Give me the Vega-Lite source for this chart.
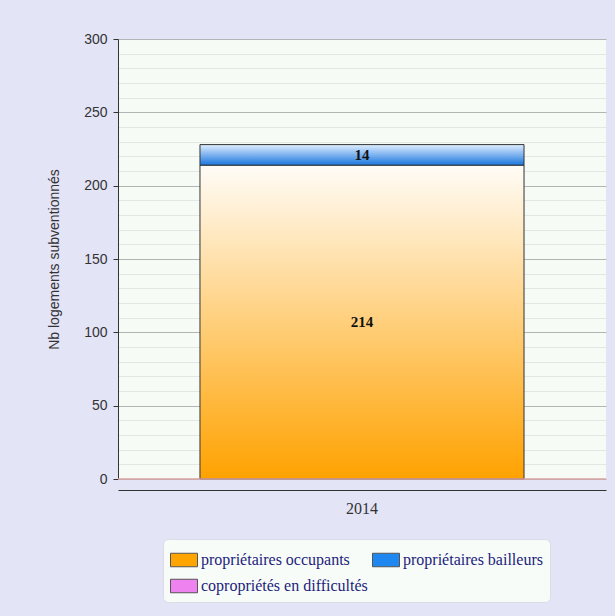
{
  "$schema": "https://vega.github.io/schema/vega-lite/v6.json",
  "width": 488,
  "height": 440,
  "autosize": {"type": "none"},
  "padding": {"left": 118, "top": 39, "right": 9, "bottom": 137},
  "background": "#e4e4f7",
  "config": {
    "view": {"fill": "#f7fbf6", "stroke": null}
  },
  "data": {
    "values": [
      {"annee": "2014", "type": "propriétaires occupants", "logements": 214},
      {"annee": "2014", "type": "propriétaires bailleurs", "logements": 14}
    ]
  },
  "resolve": {"axis": {"y": "independent"}},
  "layer": [
    {
      "mark": {"type": "bar", "stroke": "#333", "strokeWidth": 1},
      "encoding": {
        "x": {
          "field": "annee",
          "type": "nominal",
          "scale": {"paddingInner": 0, "paddingOuter": 0.253},
          "axis": {
            "title": null,
            "labelAngle": 0,
            "domain": true,
            "domainColor": "#333",
            "ticks": false,
            "offset": 11,
            "grid": false,
            "labelFont": "Liberation Serif",
            "labelFontSize": 16,
            "labelColor": "#333",
            "labelPadding": 10
          }
        },
        "y": {
          "field": "logements",
          "type": "quantitative",
          "stack": "zero",
          "scale": {"domain": [0, 300], "nice": false},
          "axis": {
            "title": "Nb logements subventionnés",
            "values": [0, 10, 20, 30, 40, 50, 60, 70, 80, 90, 100, 110, 120, 130, 140, 150, 160, 170, 180, 190, 200, 210, 220, 230, 240, 250, 260, 270, 280, 290, 300],
            "grid": true,
            "gridColor": {"condition": {"test": "datum.value % 50 === 0", "value": "#b4b4b4"}, "value": "#e3e7e3"},
            "tickOpacity": {"condition": {"test": "datum.value % 50 === 0", "value": 1}, "value": 0},
            "labelExpr": "datum.value % 50 === 0 ? datum.label : ''",
            "labelOverlap": false,
            "labelFlush": false,
            "tickSize": 5,
            "tickColor": "#333",
            "domainColor": "#333",
            "labelFont": "Liberation Sans",
            "labelFontSize": 14,
            "labelColor": "#333",
            "labelPadding": 6,
            "titleFont": "Liberation Sans",
            "titleFontSize": 14,
            "titleFontWeight": "normal",
            "titleColor": "#333",
            "titlePadding": 22
          }
        },
        "detail": {"field": "type", "type": "nominal"},
        "fill": {
          "condition": {
            "test": "datum.type === 'propriétaires occupants'",
            "value": {
              "gradient": "linear", "x1": 0, "y1": 0, "x2": 0, "y2": 1,
              "stops": [{"offset": 0, "color": "#fffcf7"}, {"offset": 1, "color": "#ffa200"}]
            }
          },
          "value": {
            "gradient": "linear", "x1": 0, "y1": 0, "x2": 0, "y2": 1,
            "stops": [{"offset": 0, "color": "#e0eeff"}, {"offset": 1, "color": "#1a76de"}]
          }
        },
        "order": {"field": "type", "sort": "descending"}
      }
    },
    {
      "mark": {"type": "point", "opacity": 0, "filled": true},
      "encoding": {
        "x": {"field": "annee", "type": "nominal"},
        "color": {
          "field": "type",
          "type": "nominal",
          "scale": {
            "domain": ["propriétaires occupants", "propriétaires bailleurs", "copropriétés en difficultés"],
            "range": ["#ffa500", "#1e88f0", "#ee82ee"]
          },
          "legend": {
            "title": null,
            "orient": "none",
            "legendX": 45,
            "legendY": 500,
            "direction": "horizontal",
            "columns": 2,
            "gridAlign": "none",
            "symbolType": "M-1,-0.5H1V0.5H-1Z",
            "symbolSize": 729,
            "symbolOpacity": 1,
            "symbolStrokeColor": "#555",
            "symbolStrokeWidth": 1,
            "labelFont": "Liberation Serif",
            "labelFontSize": 16,
            "labelColor": "#1c1c7c",
            "labelOffset": 3,
            "labelLimit": 0,
            "columnPadding": 2,
            "rowPadding": 3,
            "padding": 7,
            "fillColor": "#f8fcf8",
            "strokeColor": "#dcdce8",
            "cornerRadius": 5
          }
        }
      }
    },
    {
      "mark": {"type": "rule", "color": "#d9a3a3", "strokeWidth": 1},
      "encoding": {"y": {"datum": 0, "axis": null}}
    },
    {
      "transform": [
        {"stack": "logements", "groupby": ["annee"], "sort": [{"field": "type", "order": "descending"}], "as": ["y0", "y1"]},
        {"calculate": "(datum.y0 + datum.y1) / 2", "as": "mid"}
      ],
      "mark": {"type": "text", "font": "Liberation Serif", "fontSize": 15, "fontWeight": "bold", "color": "#111", "baseline": "middle"},
      "encoding": {
        "x": {"field": "annee", "type": "nominal"},
        "y": {"field": "mid", "type": "quantitative", "axis": null},
        "text": {"field": "logements", "type": "quantitative"}
      }
    }
  ]
}
